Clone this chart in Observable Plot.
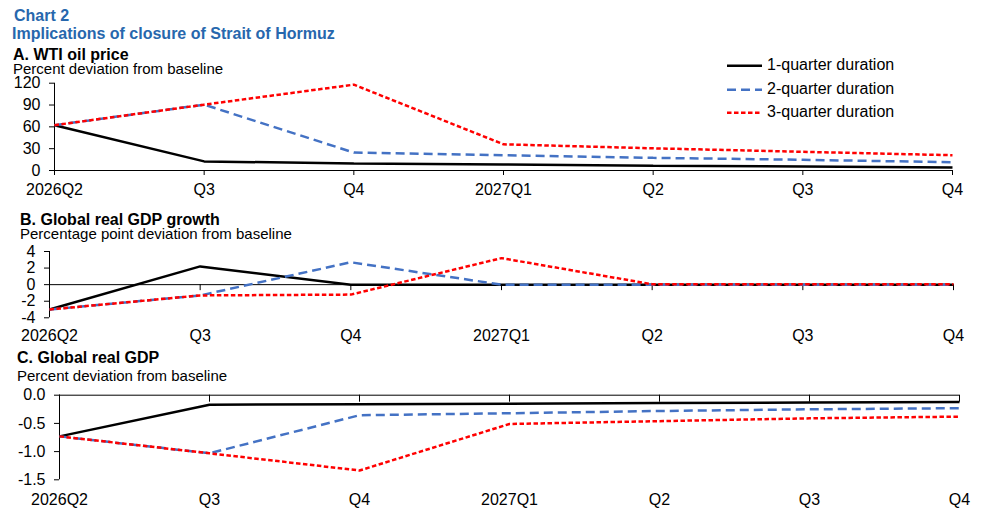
<!DOCTYPE html>
<html>
<head>
<meta charset="utf-8">
<script src="https://cdn.jsdelivr.net/npm/d3@7"></script>
<script src="https://cdn.jsdelivr.net/npm/@observablehq/plot@0.6"></script>
<style>
  html, body { margin: 0; padding: 0; background: #fff; }
  body { width: 996px; height: 514px; position: relative; overflow: hidden; font-family: "Liberation Sans", Arial, sans-serif; }
  .t { position: absolute; white-space: nowrap; line-height: 0.8; }
  .blue { color: #2767AD; font-weight: bold; font-size: 16px; }
  .ptitle { font-weight: bold; font-size: 16px; color: #000; }
  .psub { font-size: 15px; color: #000; }
  .panel { position: absolute; left: 0; }
  .legend { position: absolute; left: 727px; top: 54px; }
  .legend .row { position: absolute; left: 0; height: 20px; white-space: nowrap; font-size: 16px; line-height: 0.8; }
  .legend svg { position: absolute; left: 0; top: 0; overflow: visible; }
  .legend span { position: absolute; left: 40px; top: 5.1px; }
</style>
</head>
<body>
<div class="t blue" style="left:14px; top:9.6px;">Chart 2</div>
<div class="t blue" style="left:12px; top:27.6px;">Implications of closure of Strait of Hormuz</div>

<div class="t ptitle" style="left:13px; top:49.1px;">A. WTI oil price</div>
<div class="t psub" style="left:13px; top:63.3px;">Percent deviation from baseline</div>

<div class="t ptitle" style="left:20px; top:214.1px;">B. Global real GDP growth</div>
<div class="t psub" style="left:20px; top:228.1px;">Percentage point deviation from baseline</div>

<div class="t ptitle" style="left:17px; top:352.1px;">C. Global real GDP</div>
<div class="t psub" style="left:17px; top:369.5px;">Percent deviation from baseline</div>

<div id="pA" class="panel" style="top:75px;"></div>
<div id="pB" class="panel" style="top:245px;"></div>
<div id="pC" class="panel" style="top:388px;"></div>
<div id="legend" class="legend"></div>

<script>
// ---- Data ----
const quarters = ["2026Q2", "Q3", "Q4", "2027Q1", "Q2", "Q3", "Q4"];
const seriesNames = ["1-quarter duration", "2-quarter duration", "3-quarter duration"];

// A. WTI oil price, percent deviation from baseline
const wti1 = [62.3, 12.5, 9.6, 8.3, 6.5, 5.5, 4.1];
const wti2 = [62.3, 90.5, 24.7, 21.0, 17.4, 14.7, 11.4];
const wti3 = [62.3, 90.5, 118.0, 36.0, 30.5, 25.7, 21.0];

// B. Global real GDP growth, percentage point deviation from baseline
const gdpg1 = [-3.0, 2.2, 0.0, 0.0, 0.0, 0.0, 0.0];
const gdpg2 = [-3.0, -1.3, 2.7, 0.0, 0.0, 0.0, 0.0];
const gdpg3 = [-3.0, -1.3, -1.2, 3.2, 0.05, 0.05, 0.05];

// C. Global real GDP, percent deviation from baseline
const gdp1 = [-0.73, -0.17, -0.16, -0.15, -0.14, -0.13, -0.12];
const gdp2 = [-0.73, -1.03, -0.355, -0.32, -0.28, -0.25, -0.23];
const gdp3 = [-0.73, -1.03, -1.335, -0.51, -0.46, -0.41, -0.38];

const ticksA = [0, 30, 60, 90, 120];
const ticksB = [-4, -2, 0, 2, 4];
const ticksC = [0, -0.5, -1.0, -1.5];

// ---- Styles ----
const styles = [
  {stroke: "#000000", strokeWidth: 2.5, strokeDasharray: null},
  {stroke: "#4472C4", strokeWidth: 2.5, strokeDasharray: "9,5"},
  {stroke: "#FF0000", strokeWidth: 2.5, strokeDasharray: "4.5,2.5"}
];

const idx = quarters.map((_, i) => i);

function table(arrays) {
  const rows = [];
  arrays.forEach((arr, s) => arr.forEach((v, i) => rows.push({s, i, v})));
  return rows;
}

function panel(el, arrays, cfg) {
  const rows = table(arrays);
  const lineMarks = styles.map((st, s) => Plot.line(rows.filter(d => d.s === s), {
    x: "i", y: "v", stroke: st.stroke, strokeWidth: st.strokeWidth,
    strokeDasharray: st.strokeDasharray, strokeLinejoin: "miter", strokeLinecap: "butt"
  }));
  const chart = Plot.plot({
    width: 996,
    height: cfg.height,
    marginLeft: cfg.ml,
    marginRight: cfg.mr,
    marginTop: cfg.mt,
    marginBottom: cfg.mb,
    style: {fontFamily: "'Liberation Sans', Arial, sans-serif", fontSize: "16px", color: "#000", background: "transparent", overflow: "visible"},
    x: {domain: [0, quarters.length - 1], ticks: idx, tickFormat: i => quarters[i], tickSize: 0, tickPadding: cfg.xpad, label: null},
    y: {domain: cfg.ydomain, ticks: cfg.yticks, tickFormat: cfg.yfmt, tickSize: 5, tickPadding: 9, label: null},
    marks: [
      Plot.ruleY([0], {stroke: "#000", strokeWidth: 1}),
      Plot.ruleX([0], {stroke: "#000", strokeWidth: 1}),
      Plot.ruleX(idx, {x: d => d, y1: 0, y2: 0, insetBottom: -cfg.tick, stroke: "#000", strokeWidth: 1}),
      ...lineMarks
    ]
  });
  document.getElementById(el).appendChild(chart);
}

panel("pA", [wti1, wti2, wti3], {height: 125, ml: 54, mr: 44, mt: 7.7, mb: 30, xpad: 13, tick: 5,
  ydomain: [0, 120], yticks: ticksA, yfmt: d => String(d)});
panel("pB", [gdpg1, gdpg2, gdpg3], {height: 105, ml: 49, mr: 43, mt: 6, mb: 32.7, xpad: 12, tick: 6,
  ydomain: [-4, 4], yticks: ticksB, yfmt: d => String(d)});
panel("pC", [gdp1, gdp2, gdp3], {height: 126, ml: 59, mr: 37, mt: 6.7, mb: 34.7, xpad: 13.4, tick: 7,
  ydomain: [-1.5, 0], yticks: ticksC, yfmt: d => d.toFixed(1)});

// ---- Legend ----
const legend = document.getElementById("legend");
const legendY = [0, 24.3, 46.6];
seriesNames.forEach((name, s) => {
  const row = document.createElement("div");
  row.className = "row";
  row.style.top = legendY[s] + "px";
  const st = styles[s];
  row.innerHTML = `<svg width="35" height="20"><line x1="0" x2="35" y1="11.7" y2="11.7" stroke="${st.stroke}" stroke-width="${st.strokeWidth}" ${st.strokeDasharray ? `stroke-dasharray="${st.strokeDasharray}"` : ""}></line></svg><span>${name}</span>`;
  legend.appendChild(row);
});
</script>
</body>
</html>
